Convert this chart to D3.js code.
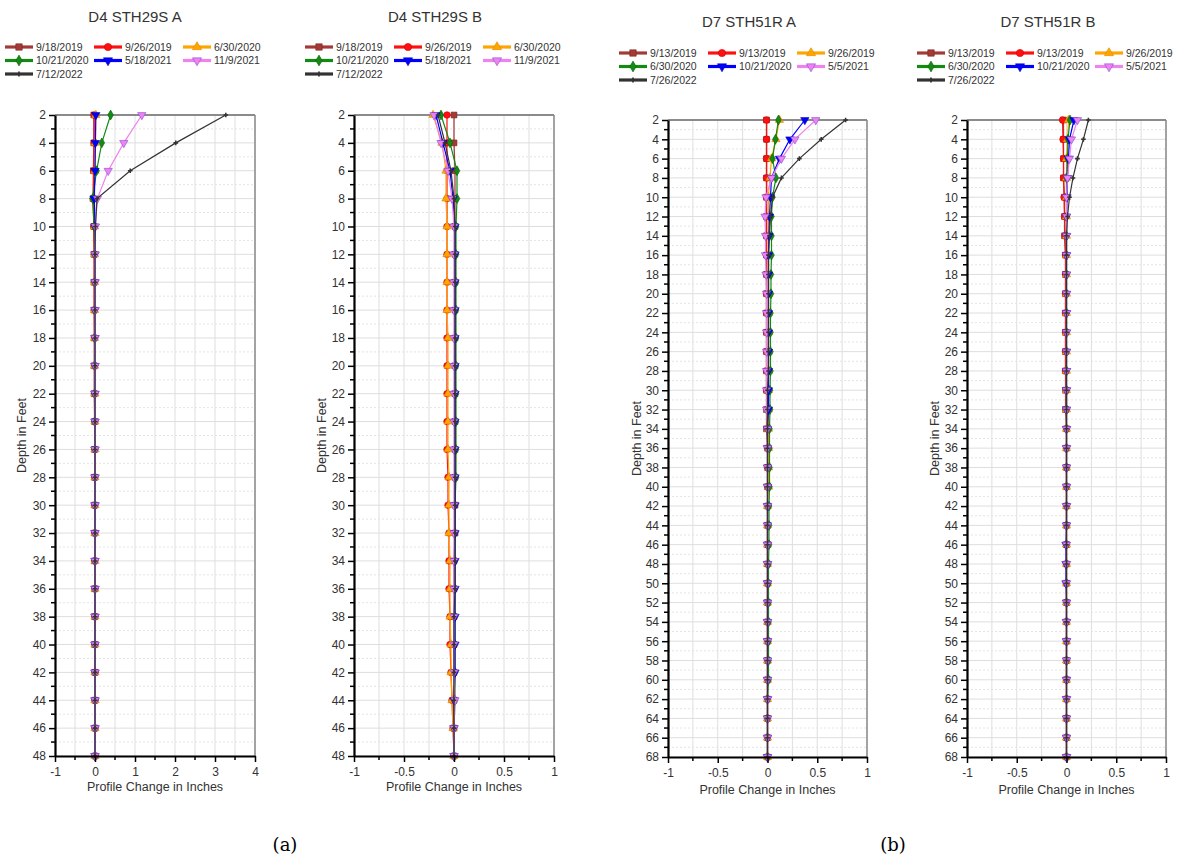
<!DOCTYPE html>
<html><head><meta charset="utf-8">
<script src="https://cdn.jsdelivr.net/npm/d3@7"></script>
<style>body{margin:0;background:#fff}svg{display:block}</style>
</head><body><svg id="c" width="1178" height="861"></svg>
<script>
// ---------------- DATA ----------------
const depthsD4 = [2,4,6,8,10,12,14,16,18,20,22,24,26,28,30,32,34,36,38,40,42,44,46,48];
const depthsD7 = [2,4,6,8,10,12,14,16,18,20,22,24,26,28,30,32,34,36,38,40,42,44,46,48,50,52,54,56,58,60,62,64,66,68];
const datesD4 = ["9/18/2019","9/26/2019","6/30/2020","10/21/2020","5/18/2021","11/9/2021","7/12/2022"];
const datesD7 = ["9/13/2019","9/13/2019","9/26/2019","6/30/2020","10/21/2020","5/5/2021","7/26/2022"];
const titles = ["D4 STH29S A","D4 STH29S B","D7 STH51R A","D7 STH51R B"];
const xTicksWide = [-1,0,1,2,3,4];
const xTicksNarrow = [-1,-0.5,0,0.5,1];
const yTicksD4 = [2,4,6,8,10,12,14,16,18,20,22,24,26,28,30,32,34,36,38,40,42,44,46,48];
const yTicksD7 = [2,4,6,8,10,12,14,16,18,20,22,24,26,28,30,32,34,36,38,40,42,44,46,48,50,52,54,56,58,60,62,64,66,68];

// Panel 1: D4 STH29S A
const a1 = [-0.03,-0.03,-0.04,-0.05,-0.03,-0.02,-0.02,-0.02,-0.02,-0.02,-0.02,-0.01,-0.01,-0.01,-0.01,-0.01,-0.01,-0.01,-0.01,-0.01,0,0,0,0];
const a2 = [-0.02,-0.02,-0.03,-0.04,-0.03,-0.02,-0.02,-0.02,-0.01,-0.01,-0.01,-0.01,-0.01,-0.01,-0.01,-0.01,-0.01,0,0,0,0,0,0,0];
const a3 = [0.02,0.01,0,-0.02,-0.01,-0.01,-0.01,-0.01,-0.01,-0.01,0,0,0,0,0,0,0,0,0,0,0,0,0,0];
const a4 = [0.39,0.17,0.04,-0.06,-0.02,-0.01,-0.01,-0.01,-0.01,-0.01,-0.01,-0.01,0,0,0,0,0,0,0,0,0,0,0,0];
const a5 = [0.02,0.01,0.0,-0.02,0,0,0,0,0,0,0,0,0,0,0,0,0,0,0,0,0,0,0,0];
const a6 = [1.17,0.72,0.33,0.06,0.01,0,0,0,0,0,0,0,0,0,0,0,0,0,0,0,0,0,0,0];
const a7 = [3.27,2.02,0.88,0.05,0.01,0,0,0,0,0,0,0,0,0,0,0,0,0,0,0,0,0,0,0];

// Panel 2: D4 STH29S B
const b1 = [0,0,0.01,0.01,0.01,0.01,0.01,0.01,0.01,0.01,0.01,0.01,0.01,0.01,0.01,0.01,0,0,0,0,0,0,0,0];
const b2 = [-0.07,-0.07,-0.07,-0.07,-0.07,-0.07,-0.07,-0.07,-0.07,-0.07,-0.07,-0.07,-0.07,-0.06,-0.06,-0.05,-0.05,-0.05,-0.04,-0.04,-0.03,-0.02,-0.01,0];
const b3 = [-0.21,-0.12,-0.08,-0.08,-0.07,-0.07,-0.07,-0.07,-0.06,-0.06,-0.06,-0.06,-0.06,-0.05,-0.05,-0.05,-0.04,-0.04,-0.04,-0.03,-0.03,-0.02,-0.01,0];
const b4 = [-0.13,-0.04,0.03,0.03,0.02,0.02,0.02,0.02,0.02,0.02,0.02,0.02,0.02,0.02,0.01,0.01,0.01,0.01,0.01,0.01,0.01,0.01,0,0];
const b5 = [-0.18,-0.11,-0.04,-0.01,0.01,0.01,0.01,0.01,0.01,0.01,0.01,0.01,0.01,0.01,0.01,0.01,0.01,0.01,0.01,0.01,0.01,0,0,0];
const b6 = [-0.2,-0.13,-0.06,-0.02,0,0,0,0,0,0,0,0,0,0,0,0,0,0,0,0,0,0.01,0,0];
const b7 = [-0.16,-0.09,-0.03,0,0.01,0.01,0.01,0.01,0.01,0.01,0.01,0.01,0.01,0.01,0.01,0.01,0.01,0.01,0,0,0,0,0,0];

// Panel 3: D7 STH51R A
const c1 = [-0.01,-0.01,-0.01,-0.01,-0.01,-0.01,-0.01,-0.01,-0.01,-0.01,-0.01,-0.01,-0.01,-0.01,-0.01,-0.01,-0.01,0,0,0,0,0,0,0,0,0,0,0,0,0,0,0,0,0];
const c2 = [-0.01,-0.01,-0.01,-0.01,-0.01,-0.01,-0.01,-0.01,-0.01,-0.01,-0.01,-0.01,-0.01,-0.01,-0.01,0,0,0,0,0,0,0,0,0,0,0,0,0,0,0,0,0,0,0];
const c3 = [0.12,0.085,0.04,0.025,0.01,0.01,0.01,0.01,0.01,0.01,0.01,0.01,0.01,0.01,0.01,0.01,0.01,0.01,0.01,0.01,0,0,0,0,0,0,0,0,0,0,0,0,0,0];
const c4 = [0.11,0.08,0.05,0.085,0.05,0.04,0.04,0.04,0.035,0.035,0.03,0.03,0.03,0.03,0.025,0.025,0.02,0.02,0.02,0.02,0.015,0.015,0.015,0.01,0.01,0.01,0.01,0.01,0.01,0.01,0,0,0,0];
const c5 = [0.375,0.225,0.12,0.04,0.03,0.02,0.015,0.01,0.01,0.01,0.01,0.01,0.01,0.01,0.01,0.01,0,0,0,0,0,0,0,0,0,0,0,0,0,0,0,0,0,0];
const c6 = [0.485,0.275,0.14,0.04,-0.015,-0.025,-0.02,-0.02,-0.015,-0.01,-0.01,-0.01,-0.01,-0.01,-0.01,-0.01,0,0,0,0,0,0,0,0,0,0,0,0,0,0,0,0,0,0];
const c7 = [0.785,0.54,0.32,0.14,0.05,0.03,0.02,0.01,0.01,0.01,0.01,0.01,0.01,0.01,0,0,0,0,0,0,0,0,0,0,0,0,0,0,0,0,0,0,0,0];

// Panel 4: D7 STH51R B
const d1 = [-0.03,-0.03,-0.03,-0.03,-0.02,-0.02,-0.02,-0.01,-0.01,-0.01,-0.01,-0.01,-0.01,-0.01,-0.01,-0.01,0,0,0,0,0,0,0,0,0,0,0,0,0,0,0,0,0,0];
const d2 = [-0.04,-0.035,-0.03,-0.03,-0.025,-0.02,-0.015,-0.01,-0.01,-0.01,-0.01,-0.01,-0.01,-0.01,0,0,0,0,0,0,0,0,0,0,0,0,0,0,0,0,0,0,0,0];
const d3v = [0.02,0.01,0,0,0,0,0,0,0,0,0,0,0,0,0,0,0,0,0,0,0,0,0,0,0,0,0,0,0,0,0,0,0,0];
const d4 = [0.035,0.015,0.01,0,0,0,0,0,0,0,0,0,0,0,0,0,0,0,0,0,0,0,0,0,0,0,0,0,0,0,0,0,0,0];
const d5 = [0.075,0.03,0.02,0.01,0.005,0,0,0,0,0,0,0,0,0,0,0,0,0,0,0,0,0,-0.005,-0.005,-0.005,0,0,0,0,0,0,0,0,0];
const d6 = [0.11,0.05,0.03,0.01,0,0,0,0,0,0,0,0,0,0,0,0,0,0,0,0,0,0,0,0,0,0,0,0,0,0,0,0,0,0];
const d7 = [0.22,0.17,0.11,0.065,0.03,0.01,0,0,0,0,0,0,0,0,0,0,0,0,0,0,0,0,0,0,0,0,0,0,0,0,0,0,0,0];

// ---------------- STYLE ----------------
const styles = [
  {color:"#a33a36", stroke:"#7a2420", sym:d3.symbolSquare, size:34},
  {color:"#ff1010", stroke:"#d00000", sym:d3.symbolCircle, size:34},
  {color:"#ffa500", stroke:"#e08a00", sym:d3.symbolTriangle, size:30, rot:0},
  {color:"#138a13", stroke:"#0a600a", sym:d3.symbolDiamond, size:28},
  {color:"#0000ff", stroke:"#0000b0", sym:d3.symbolTriangle, size:30, rot:180},
  {color:"#ee82ee", stroke:"#8a4bd6", sym:d3.symbolTriangle, size:30, rot:180},
  {color:"#333333", stroke:"#333333", sym:d3.symbolCross, size:12}
];

const panels = [
  {title:titles[0], left:55, right:255, top:115, bottom:756, xDomain:[-1,4], xTicks:xTicksWide, xGridStep:0.5,
   yDomain:[2,48], yTicks:yTicksD4, depths:depthsD4, dates:datesD4, series:[a1,a2,a3,a4,a5,a6,a7],
   titleX:135, titleY:22, legX:5, legY:47, yLabX:22, xLabY:791},
  {title:titles[1], left:354, right:554, top:115, bottom:756, xDomain:[-1,1], xTicks:xTicksNarrow, xGridStep:0.25,
   yDomain:[2,48], yTicks:yTicksD4, depths:depthsD4, dates:datesD4, series:[b1,b2,b3,b4,b5,b6,b7],
   titleX:435, titleY:22, legX:305, legY:47, yLabX:322, xLabY:791},
  {title:titles[2], left:668, right:867, top:120, bottom:757, xDomain:[-1,1], xTicks:xTicksNarrow, xGridStep:0.25,
   yDomain:[2,68], yTicks:yTicksD7, depths:depthsD7, dates:datesD7, series:[c1,c2,c3,c4,c5,c6,c7],
   titleX:749, titleY:27, legX:619, legY:53, yLabX:637, xLabY:794},
  {title:titles[3], left:967, right:1166, top:120, bottom:757, xDomain:[-1,1], xTicks:xTicksNarrow, xGridStep:0.25,
   yDomain:[2,68], yTicks:yTicksD7, depths:depthsD7, dates:datesD7, series:[d1,d2,d3v,d4,d5,d6,d7],
   titleX:1048, titleY:27, legX:917, legY:53, yLabX:935, xLabY:794}
];

const svg = d3.select("#c");
const FONT = "'Liberation Sans', Arial, sans-serif";

function marker(sel, st, px, py, scale) {
  const s = scale || 1;
  sel.append("path")
    .attr("d", d3.symbol().type(st.sym).size(st.size * s * s)())
    .attr("transform", `translate(${px},${py}) rotate(${st.rot||0})`)
    .attr("fill", st.color)
    .attr("stroke", st.stroke)
    .attr("stroke-width", st.sym === d3.symbolCross ? 0 : 0.6);
}

panels.forEach(p => {
  const g = svg.append("g");
  const x = d3.scaleLinear().domain(p.xDomain).range([p.left, p.right]);
  const y = d3.scaleLinear().domain(p.yDomain).range([p.top, p.bottom]);

  // grid
  const gx = d3.range(p.xDomain[0], p.xDomain[1] + 1e-9, p.xGridStep);
  g.append("g").selectAll("line").data(gx).join("line")
    .attr("x1", d => x(d)).attr("x2", d => x(d)).attr("y1", p.top).attr("y2", p.bottom)
    .attr("stroke", "#dedede").attr("stroke-width", 1);
  const gy = d3.range(p.yDomain[0], p.yDomain[1] + 1e-9, 1);
  g.append("g").selectAll("line").data(gy).join("line")
    .attr("x1", p.left).attr("x2", p.right).attr("y1", d => y(d)).attr("y2", d => y(d))
    .attr("stroke", d => d % 2 === 0 ? "#dedede" : "#e4e4e4")
    .attr("stroke-dasharray", d => d % 2 === 0 ? null : "2,2")
    .attr("stroke-width", 1);

  // frame top/right
  g.append("line").attr("x1", p.left).attr("x2", p.right).attr("y1", p.top).attr("y2", p.top)
    .attr("stroke", "#6a6a6a").attr("stroke-width", 1.5);
  g.append("line").attr("x1", p.right).attr("x2", p.right).attr("y1", p.top).attr("y2", p.bottom)
    .attr("stroke", "#8a8a8a").attr("stroke-width", 1.5);

  // series
  const line = d3.line().x(d => x(d[0])).y(d => y(d[1]));
  p.series.forEach((vals, i) => {
    const st = styles[i];
    const pts = vals.map((v, j) => [v, p.depths[j]]);
    g.append("path").datum(pts).attr("d", line).attr("fill", "none")
      .attr("stroke", st.color).attr("stroke-width", 1.2);
    const mg = g.append("g");
    pts.forEach(pt => marker(mg, st, x(pt[0]), y(pt[1]), 1));
  });

  // axes
  const ax = g.append("g").attr("transform", `translate(${p.left},0)`)
    .call(d3.axisLeft(y).tickValues(p.yTicks).tickFormat(d => String(d)).tickSize(6).tickSizeOuter(0).tickPadding(3));
  const minorY = d3.range(p.yDomain[0] + 1, p.yDomain[1], 2);
  g.append("g").selectAll("line").data(minorY).join("line")
    .attr("x1", p.left - 4).attr("x2", p.left).attr("y1", d => y(d)).attr("y2", d => y(d))
    .attr("stroke", "#000").attr("stroke-width", 1.5);
  const bx = g.append("g").attr("transform", `translate(0,${p.bottom})`)
    .call(d3.axisBottom(x).tickValues(p.xTicks).tickFormat(d => String(d)).tickSize(6).tickSizeOuter(0).tickPadding(5));
  const xStepMajor = p.xTicks[1] - p.xTicks[0];
  const minorX = d3.range(p.xDomain[0] + xStepMajor / 2, p.xDomain[1], xStepMajor);
  g.append("g").selectAll("line").data(minorX).join("line")
    .attr("x1", d => x(d)).attr("x2", d => x(d)).attr("y1", p.bottom).attr("y2", p.bottom + 4)
    .attr("stroke", "#000").attr("stroke-width", 1.5);
  [ax, bx].forEach(a => {
    a.select(".domain").attr("stroke", "#000").attr("stroke-width", 2.2);
    a.selectAll(".tick line").attr("stroke", "#000").attr("stroke-width", 1.5);
    a.selectAll(".tick text").attr("font-family", FONT).attr("font-size", 12).attr("fill", "#333");
  });

  // labels
  g.append("text").attr("x", p.titleX).attr("y", p.titleY).attr("text-anchor", "middle")
    .attr("font-family", FONT).attr("font-size", 15).attr("fill", "#333").text(p.title);
  g.append("text").attr("x", (p.left + p.right) / 2).attr("y", p.xLabY).attr("text-anchor", "middle")
    .attr("font-family", FONT).attr("font-size", 12.5).attr("fill", "#333").text("Profile Change in Inches");
  g.append("text").attr("transform", `translate(${p.yLabX},${(p.top + p.bottom) / 2}) rotate(-90)`)
    .attr("text-anchor", "middle").attr("dy", "0.35em")
    .attr("font-family", FONT).attr("font-size", 12.5).attr("fill", "#333").text("Depth in Feet");

  // legend
  p.dates.forEach((dt, i) => {
    const st = styles[i];
    const lx = p.legX + (i % 3) * 89;
    const ly = p.legY + Math.floor(i / 3) * 13.5;
    g.append("line").attr("x1", lx).attr("x2", lx + 28).attr("y1", ly).attr("y2", ly)
      .attr("stroke", st.color).attr("stroke-width", 3.2);
    marker(g, st, lx + 14, ly, 1.1);
    g.append("text").attr("x", lx + 31).attr("y", ly).attr("dy", "0.35em")
      .attr("font-family", FONT).attr("font-size", 10.5).attr("fill", "#333").text(dt);
  });
});

// captions
svg.append("text").attr("x", 285).attr("y", 851).attr("text-anchor", "middle")
  .attr("font-family", "'DejaVu Serif', 'Liberation Serif', serif").attr("font-size", 18).text("(a)");
svg.append("text").attr("x", 893).attr("y", 851).attr("text-anchor", "middle")
  .attr("font-family", "'DejaVu Serif', 'Liberation Serif', serif").attr("font-size", 18).text("(b)");
</script>
</body></html>
